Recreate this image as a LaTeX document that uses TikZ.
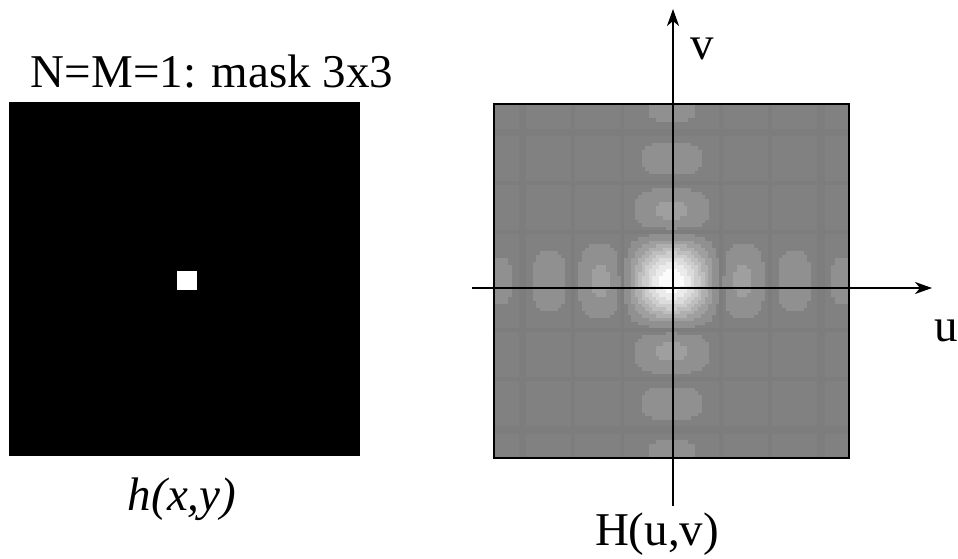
\documentclass[tikz,border=0pt]{standalone}
\usepackage{fontspec}
\setmainfont{Liberation Serif}
\usetikzlibrary{arrows.meta}
\definecolor{bandGray}{HTML}{7D7D7D}
\definecolor{baseGray}{HTML}{818181}

\begin{document}
\begin{tikzpicture}[x=1pt, y=-1pt,
    lbl/.style={font=\fontsize{47}{56}\selectfont, inner sep=0pt},
    axis/.style={line width=2pt, -{Stealth[length=17pt, width=12pt, inset=5pt]}}]
    \useasboundingbox (0,0) rectangle (958,559);
    % spatial mask h(x,y)
    \fill[black] (9,102) rectangle (360,456);
    \fill[white] (177,271) rectangle (197,290);
    \node[lbl, anchor=base] (title) at (212,88) {N=M=1: mask 3x3};
    \node[lbl, anchor=base] (hxy) at (182,510) {\textit{h(x,y)}};
    % spectrum H(u,v), one sinc per axis
    \fill[baseGray] (494,104) rectangle (849,458);
    \foreach \i in {0,...,100}{%
        \ifnum\i=50 \gdef\fu{1}\else
            \pgfmathsetmacro\fu{abs(sin(180*(\i-50)*0.071)/(pi*(\i-50)*0.071))}\fi
        \expandafter\xdef\csname snc\i\endcsname{\fu}%
    }
    \foreach \i in {0,...,100}{
        \foreach \j in {0,...,100}{
            \edef\hu{\csname snc\i\endcsname}
            \edef\hv{\csname snc\j\endcsname}
            \pgfmathtruncatemacro\lev{round(\hu*\hv/0.12)}
            \pgfmathtruncatemacro\band{(\hu<0.025)||(\hv<0.025)}
            \ifnum\lev>0
                \pgfmathsetmacro\pc{max(0,100-(129+15.2*\lev)/2.55)}
                \fill[black!\pc] ({494+\i*3.515},{104+\j*3.505}) rectangle +(3.8,3.8);
            \else\ifnum\band=1
                \fill[bandGray] ({494+\i*3.515},{104+\j*3.505}) rectangle +(3.8,3.8);
            \fi\fi
        }
    }
    \draw[line width=1.5pt] (494,104) rectangle (849,458);
    % axes
    \coordinate (uStart) at (472,288);
    \coordinate (uEnd) at (932,288);
    \coordinate (vStart) at (673,506);
    \coordinate (vEnd) at (673,9);
    \draw[axis] (uStart) -- (uEnd);
    \draw[axis] (vStart) -- (vEnd);
    \node[lbl, anchor=base] (ulbl) at (946,341) {u};
    \node[lbl, anchor=base] (vlbl) at (702,60) {v};
    \node[lbl, anchor=base] (Huv) at (657,545) {H(u,v)};
\end{tikzpicture}
\end{document}
